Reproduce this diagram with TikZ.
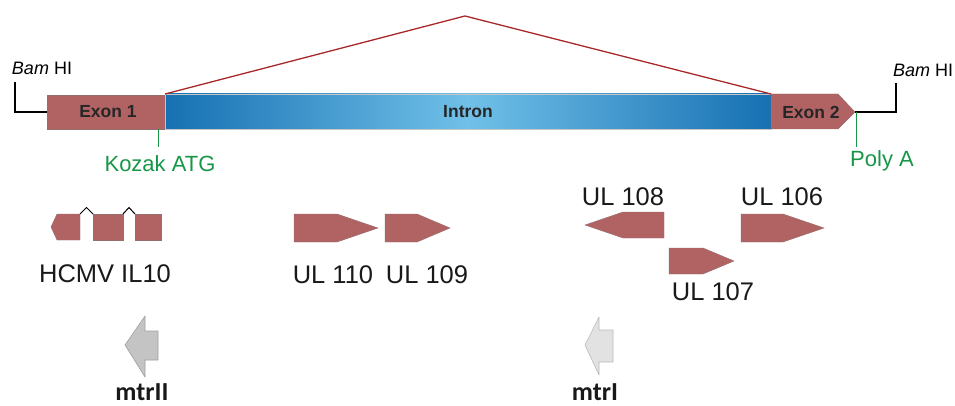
\documentclass[tikz,border=0pt]{standalone}
\usepackage{fontspec}
\setmainfont{Liberation Sans}
\newfontfamily\calfont{Carlito}
\definecolor{exonred}{RGB}{177,99,100}
\definecolor{exonedge}{RGB}{150,110,110}
\definecolor{darkblue}{RGB}{22,112,178}
\definecolor{lightblue}{RGB}{112,192,232}
\definecolor{spliceline}{RGB}{168,40,42}
\definecolor{siteGreen}{RGB}{24,150,72}
\definecolor{greyA}{RGB}{196,196,196}
\definecolor{greyAedge}{RGB}{160,160,160}
\definecolor{greyB}{RGB}{226,226,226}
\definecolor{greyBedge}{RGB}{185,185,185}
\begin{document}
\begin{tikzpicture}[x=1pt,y=-1pt,
  gene/.style={fill=exonred, draw=exonedge, line width=0.4pt},
  boxlbl/.style={font=\fontsize{17.5}{20}\selectfont\bfseries, text=black!85, inner sep=0},
  sitelbl/.style={font=\fontsize{22}{26}\selectfont, text=siteGreen, inner sep=0, anchor=base},
  bamlbl/.style={font=\fontsize{18}{22}\selectfont, inner sep=0, anchor=base},
  genelbl/.style={font=\fontsize{25.5}{30}\selectfont, text=black!90, inner sep=0, anchor=base},
  mtrlbl/.style={font=\calfont\fontsize{26}{30}\selectfont\bfseries, text=black!90, inner sep=0, anchor=base},
  bamline/.style={draw=black, line width=1.4pt},
  siteline/.style={draw=siteGreen, line width=0.9pt},
  hat/.style={draw=black, line width=1pt}
]
\useasboundingbox (0,0) rectangle (955,406);

% --- transcript ---
\node[gene, minimum width=118pt, minimum height=34pt, inner sep=0] (exon1) at (106,112) {};
\shade[left color=darkblue, right color=darkblue, middle color=lightblue]
  (165,94) rectangle (771,129);
\draw[draw=gray!45, line width=0.4pt] (165,94) rectangle (771,129);
\coordinate (intronL) at (165,94);
\coordinate (intronR) at (771,94);
\draw[gene] (771,94) -- (838,94) -- (855,112) -- (838,129) -- (771,129) -- cycle;
\coordinate (exon2tip) at (855,112);

\node[boxlbl] (ex1lbl) at (108,112) {Exon 1};
\node[boxlbl] (intronlbl) at (468,112) {Intron};
\node[boxlbl] (ex2lbl) at (811,112) {Exon 2};

% splice line
\coordinate (peak) at (465,16);
\draw[draw=spliceline, line width=1.3pt, line join=round] (intronL) -- (peak) -- (intronR);

% BamHI sites
\coordinate (bamLtop) at (15,82);
\coordinate (bamRtop) at (896,83);
\draw[bamline] (exon1.west) -| (bamLtop);
\draw[bamline] (exon2tip) -| (bamRtop);
\node[bamlbl] (bamL) at (42,75) {\itshape Bam\upshape{} HI};
\node[bamlbl] (bamR) at (923,76.5) {\itshape Bam\upshape{} HI};

% Kozak / PolyA
\coordinate (kozakTop) at (158,129);
\coordinate (kozakBot) at (158,147);
\draw[siteline] (kozakTop) -- (kozakBot);
\node[sitelbl] (kozak) at (160,171.5) {Kozak ATG};
\coordinate (polyTop) at (856,112);
\coordinate (polyBot) at (856,147);
\draw[siteline] (polyTop) -- (polyBot);
\node[sitelbl] (polya) at (882,166.5) {Poly A};

% --- HCMV IL10 ---
\draw[gene] (80,214) -- (57,214) -- (51,227) -- (57,240) -- (80,240) -- cycle;
\draw[gene] (93,214) rectangle (123,240);
\draw[gene] (135,214) rectangle (161,240);
\draw[hat] (80,214) -- (86.5,207.5) -- (93,214);
\draw[hat] (123,214) -- (129,207.5) -- (135,214);
\node[genelbl] (il10) at (105,282) {HCMV IL10};

% --- UL genes ---
\draw[gene] (294,214) -- (337,214) -- (378,228) -- (337,242) -- (294,242) -- cycle;
\draw[gene] (385,214) -- (417,214) -- (450,228) -- (417,242) -- (385,242) -- cycle;
\node[genelbl] (ul110) at (333,283) {UL 110};
\node[genelbl] (ul109) at (427,283) {UL 109};

\draw[gene] (664,212) -- (623,212) -- (585,225) -- (623,238) -- (664,238) -- cycle;
\draw[gene] (741,214) -- (783,214) -- (824,228) -- (783,242) -- (741,242) -- cycle;
\draw[gene] (669,248) -- (703,248) -- (734,261) -- (703,274) -- (669,274) -- cycle;
\node[genelbl] (ul108) at (623,205) {UL 108};
\node[genelbl] (ul106) at (782,205) {UL 106};
\node[genelbl] (ul107) at (713,300) {UL 107};

% --- mtr arrows ---
\draw[fill=greyA, draw=greyAedge, line width=0.6pt, line join=round]
  (158,331) -- (145,331) -- (145,316) -- (125,345) -- (145,377) -- (145,360) -- (158,360) -- cycle;
\node[mtrlbl] (mtrII) at (142,400.5) {mtrII};
\draw[fill=greyB, draw=greyBedge, line width=0.6pt, line join=round]
  (613,330) -- (599,330) -- (599,317) -- (585,345) -- (599,375) -- (599,362) -- (613,362) -- cycle;
\node[mtrlbl] (mtrI) at (595,400.5) {mtrI};
\end{tikzpicture}
\end{document}
